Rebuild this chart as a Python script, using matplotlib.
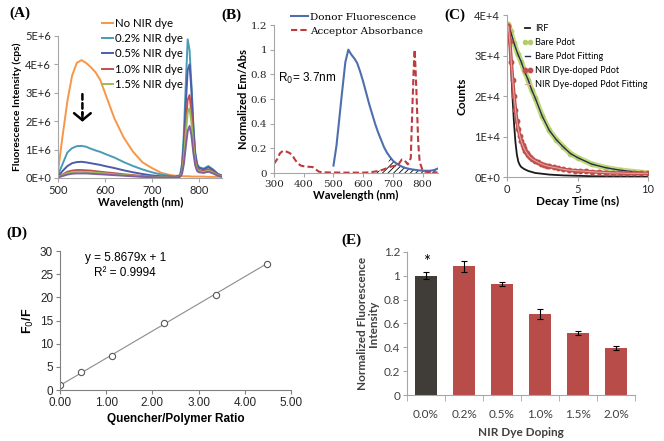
import matplotlib
matplotlib.use("Agg")
import matplotlib.pyplot as plt
import numpy as np

# ---------------- (A) emission spectra, intensity in units of 1E+6 cps
a_wavelength = [500, 510, 520, 530, 540, 550, 560, 570, 580, 590,
                600, 620, 640, 660, 680, 700, 720, 740, 750,
                760, 764, 768, 772, 776, 780, 784, 788, 792, 796, 800,
                810, 820, 830, 840, 850]
a_no_dye = [0.22, 1.5, 2.7, 3.6, 4.05, 4.15, 4.05, 3.9, 3.72, 3.45,
            3.0, 2.1, 1.42, 0.92, 0.55, 0.35, 0.18, 0.1, 0.08,
            0.07, 0.07, 0.06, 0.06, 0.06, 0.06, 0.05, 0.05, 0.05, 0.05, 0.05,
            0.05, 0.04, 0.04, 0.04, 0.04]
a_dye_02 = [0.1, 0.5, 0.9, 1.05, 1.12, 1.13, 1.1, 1.03, 0.97, 0.92,
            0.85, 0.72, 0.56, 0.42, 0.3, 0.2, 0.12, 0.07, 0.05,
            0.1, 0.5, 1.6, 3.3, 4.88, 4.5, 3.3, 1.9, 0.9, 0.5, 0.38,
            0.33, 0.42, 0.3, 0.15, 0.08]
a_dye_05 = [0.05, 0.25, 0.42, 0.52, 0.56, 0.57, 0.55, 0.52, 0.49, 0.46,
            0.42, 0.35, 0.27, 0.2, 0.14, 0.09, 0.06, 0.04, 0.04,
            0.08, 0.4, 1.2, 2.6, 3.8, 4.0, 3.1, 1.8, 0.85, 0.48, 0.36,
            0.3, 0.38, 0.28, 0.14, 0.07]
a_dye_10 = [0.03, 0.12, 0.22, 0.26, 0.28, 0.28, 0.27, 0.26, 0.24, 0.22,
            0.2, 0.17, 0.13, 0.1, 0.07, 0.05, 0.03, 0.02, 0.02,
            0.06, 0.25, 0.85, 1.9, 2.75, 2.92, 2.3, 1.35, 0.65, 0.36, 0.28,
            0.25, 0.3, 0.22, 0.11, 0.06]
a_dye_15 = [0.03, 0.1, 0.17, 0.2, 0.22, 0.22, 0.21, 0.2, 0.19, 0.17,
            0.16, 0.13, 0.1, 0.08, 0.05, 0.04, 0.03, 0.02, 0.02,
            0.05, 0.2, 0.7, 1.55, 2.3, 2.45, 1.95, 1.15, 0.55, 0.3, 0.24,
            0.21, 0.26, 0.19, 0.1, 0.05]
a_dye_20 = [0.02, 0.07, 0.12, 0.15, 0.16, 0.16, 0.16, 0.15, 0.14, 0.13,
            0.12, 0.1, 0.08, 0.06, 0.04, 0.03, 0.02, 0.02, 0.02,
            0.04, 0.15, 0.5, 1.1, 1.65, 1.83, 1.5, 0.9, 0.45, 0.25, 0.2,
            0.18, 0.22, 0.16, 0.08, 0.04]
a_labels = ['No NIR dye', '0.2% NIR dye', '0.5% NIR dye', '1.0% NIR dye',
            '1.5% NIR dye', '_nolegend_']
a_yticklabels = ['0E+0', '1E+6', '2E+6', '3E+6', '4E+6', '5E+6']

# ---------------- (B) normalized donor emission / acceptor absorbance
b_wavelength = [300, 310, 320, 330, 340, 350, 360, 370, 380, 390,
                400, 410, 420, 430, 440, 450, 460, 470, 480, 490,
                500, 510, 520, 530, 540, 550, 560, 570, 580, 590,
                600, 610, 620, 630, 640, 650, 660, 670, 680, 690,
                700, 710, 720, 730, 740, 750, 760,
                765, 770, 773, 776, 780, 785, 790,
                800, 810, 820, 830, 840, 850]
b_acceptor = [0.075, 0.11, 0.16, 0.18, 0.175, 0.165, 0.15, 0.11, 0.078, 0.06,
              0.055, 0.052, 0.05, 0.048, 0.03, 0.012, 0.006, 0.005, 0.005, 0.004,
              0.004, 0.004, 0.004, 0.003, 0.003, 0.003, 0.003, 0.003, 0.003, 0.003,
              0.003, 0.004, 0.005, 0.008, 0.012, 0.016, 0.022, 0.03, 0.04, 0.05,
              0.055, 0.06, 0.075, 0.11, 0.1, 0.07, 0.12,
              0.5, 0.85, 1.0, 0.85, 0.6, 0.25, 0.09,
              0.02, 0.01, 0.008, 0.006, 0.005, 0.005]
b_donor = [np.nan] * 20 + [
    0.06, 0.22, 0.45, 0.68, 0.9, 1.0, 0.96, 0.93, 0.89, 0.82,
    0.74, 0.65, 0.56, 0.48, 0.4, 0.33, 0.27, 0.21, 0.165, 0.13,
    0.1, 0.08, 0.065, 0.052, 0.043, 0.036, 0.031,
    0.029, 0.027, 0.026, 0.025, 0.024, 0.022, 0.021,
    0.019, 0.018, 0.018, 0.02, 0.025, 0.035]
b_yticklabels = ['0', '0.2', '0.4', '0.6', '0.8', '1', '1.2']

# ---------------- (C) decay curves, counts in units of 1E+4
c_irf_t = [0, 0.1, 0.2, 0.3, 0.4, 0.5, 0.6, 0.7, 0.8, 0.9, 1.0, 1.2, 1.5,
           2, 3, 4, 6, 8, 10]
c_irf = [3.6, 3.72, 3.2, 2.6, 1.9, 1.3, 0.85, 0.55, 0.38, 0.3, 0.25, 0.2,
         0.15, 0.1, 0.06, 0.04, 0.02, 0.015, 0.01]
c_bare_t = [0, 0.1, 0.25, 0.5, 0.75, 1.0, 1.25, 1.5, 1.75, 2.0, 2.5, 3.0,
            3.5, 4.0, 4.5, 5.0, 6.0, 7.0, 8.0, 9.0, 10.0]
c_bare = [3.7, 3.77, 3.6, 3.3, 3.05, 2.85, 2.6, 2.4, 2.15, 1.95, 1.5, 1.15,
          0.92, 0.74, 0.58, 0.48, 0.32, 0.23, 0.17, 0.13, 0.1]
c_nir_t = [0, 0.1, 0.2, 0.3, 0.4, 0.5, 0.6, 0.7, 0.8, 0.9, 1.0, 1.1, 1.2,
           1.3, 1.4, 1.5, 1.6, 1.8, 2.0, 2.2, 2.4, 2.6, 2.8, 3.0, 3.3, 3.6,
           4.0, 4.4, 4.8, 5.2, 5.6, 6.0, 6.5, 7.0, 7.5, 8.0, 8.5, 9.0, 9.5, 10.0]
c_nir = [3.5, 3.72, 3.35, 2.85, 2.4, 2.0, 1.65, 1.38, 1.18, 1.02, 0.9, 0.8,
         0.72, 0.65, 0.59, 0.54, 0.5, 0.44, 0.4, 0.36, 0.33, 0.3, 0.28, 0.26,
         0.24, 0.22, 0.19, 0.17, 0.16, 0.15, 0.14, 0.13, 0.12, 0.11, 0.1, 0.1,
         0.09, 0.09, 0.09, 0.09]
c_yticklabels = ['0E+0', '1E+4', '2E+4', '3E+4', '4E+4']

# ---------------- (D) Stern-Volmer plot
d_ratio = [0.0, 0.45, 1.12, 2.24, 3.37, 4.47]
d_f0_f = [1.05, 3.8, 7.4, 14.5, 20.6, 27.2]
d_err = [0.3, 0.3, 0.3, 0.4, 0.3, 0.5]
d_fit_x = [0.0, 4.47]
d_fit_y = [1.0, 27.23]

# ---------------- (E) normalized fluorescence vs dye doping
e_doping = ['0.0%', '0.2%', '0.5%', '1.0%', '1.5%', '2.0%']
e_intensity = [1.0, 1.08, 0.93, 0.68, 0.52, 0.395]
e_err = [0.03, 0.045, 0.018, 0.04, 0.015, 0.015]
e_yticklabels = ['0', '0.2', '0.4', '0.6', '0.8', '1', '1.2']

SANS = 'Lato'
plt.rcParams['font.family'] = SANS
plt.rcParams['hatch.linewidth'] = 0.6

fig = plt.figure(figsize=(6.64, 4.41), dpi=100)


def style_axes(ax, color='#A6A6A6', labelsize=8):
    for side in ('top', 'right'):
        ax.spines[side].set_visible(False)
    for side in ('left', 'bottom'):
        ax.spines[side].set_color(color)
        ax.spines[side].set_linewidth(0.8)
    ax.tick_params(direction='out', length=3, width=0.8, color=color,
                   labelsize=labelsize, pad=2, labelcolor='#262626')


# ---- panel A
ax_a = fig.add_axes([0.0873, 0.5964, 0.2477, 0.322])
a_series = [a_no_dye, a_dye_02, a_dye_05, a_dye_10, a_dye_15, a_dye_20]
a_colors = ['#F79646', '#4A9BB5', '#4A5DA8', '#C0504D', '#9BBB59', '#7F5F9F']
for vals, col, lab in zip(a_series, a_colors, a_labels):
    ax_a.plot(a_wavelength, vals, color=col, lw=1.4, label=lab)
ax_a.set_xlim(500, 850)
ax_a.set_ylim(0, 5)
ax_a.set_xticks([500, 600, 700, 800])
ax_a.set_yticks(range(6))
ax_a.set_yticklabels(a_yticklabels)
style_axes(ax_a)
ax_a.set_xlabel('Wavelength (nm)', fontweight='bold', fontsize=8, labelpad=1)
ax_a.set_ylabel('Fluorescence Intensity (cps)', fontweight='bold',
                fontsize=7.5, labelpad=2)
ax_a.legend(loc='upper left', bbox_to_anchor=(0.1536, 0.960),
            bbox_transform=fig.transFigure, frameon=False, fontsize=8.2,
            handlelength=1.0, handletextpad=0.1, labelspacing=0.38,
            borderpad=0, borderaxespad=0)
# dashed arrow showing the quenching
ax_a.annotate('', xy=(552, 2.15), xytext=(552, 3.05),
              arrowprops=dict(arrowstyle='-', lw=1.8, color='k',
                              linestyle=(0, (2.2, 1.4))))
ax_a.annotate('', xy=(552, 1.98), xytext=(552, 2.3),
              arrowprops=dict(arrowstyle='->, head_length=0.5, head_width=0.6',
                              lw=1.8, color='k', shrinkA=0, shrinkB=0))

# ---- panel B
ax_b = fig.add_axes([0.4127, 0.6077, 0.2462, 0.3356])
b_wl = np.array(b_wavelength)
b_don = np.array(b_donor)
b_acc = np.array(b_acceptor)
overlap = np.where(b_wl >= 690, b_don, b_acc)
ax_b.fill_between(b_wl, 0, overlap, where=b_wl >= 640, facecolor='none',
                  edgecolor='black', hatch='//////', linewidth=0)
ax_b.plot(b_wl, b_don, color='#4F6EAD', lw=1.5, label='Donor Fluorescence')
ax_b.plot(b_wl, b_acc, color='#BE3A3C', lw=1.5, ls=(0, (3, 1.5)),
          label='Acceptor Absorbance')
ax_b.set_xlim(300, 850)
ax_b.set_ylim(0, 1.2)
ax_b.set_xticks([300, 400, 500, 600, 700, 800])
ax_b.set_yticks([0, 0.2, 0.4, 0.6, 0.8, 1.0, 1.2])
ax_b.set_yticklabels(b_yticklabels)
style_axes(ax_b)
ax_b.tick_params(labelfontfamily='DejaVu Serif', labelsize=7.5)
ax_b.set_xlabel('Wavelength (nm)', fontweight='bold', fontsize=8, labelpad=1)
ax_b.set_ylabel('Normalized Em/Abs', fontweight='bold', fontsize=8, labelpad=1)
ax_b.text(313, 0.77, 'R$_0$= 3.7nm', fontsize=8.5, va='center',
          family='Liberation Sans')
ax_b.legend(loc='upper left', bbox_to_anchor=(0.439, 0.972),
            bbox_transform=fig.transFigure, frameon=False,
            prop={'family': 'DejaVu Serif', 'size': 7.5},
            handlelength=1.6, handletextpad=0.2, labelspacing=0.45,
            borderpad=0, borderaxespad=0)

# ---- panel C
ax_c = fig.add_axes([0.7636, 0.5986, 0.2123, 0.3673])
ax_c.plot(c_irf_t, c_irf, color='#1A1A1A', lw=1.3, label='IRF')
ax_c.plot(c_bare_t, c_bare, color='#C5D97A', lw=4, solid_capstyle='round')
ax_c.plot(c_bare_t, c_bare, ls='none', marker='o', ms=3, color='#B5CC6A',
          label='Bare Pdot')
ax_c.plot(c_bare_t, c_bare, color='#1F2F4F', lw=1.0, label='Bare Pdot Fitting')
ax_c.plot(c_nir_t, c_nir, color='#C0504D', lw=2.5)
ax_c.plot(c_nir_t, c_nir, ls='none', marker='o', ms=3.2, color='#C0504D',
          label='NIR Dye-doped Pdot')
ax_c.plot(c_nir_t, c_nir, color='#E3A3A2', lw=0.8,
          label='NIR Dye-doped Pdot Fitting')
ax_c.set_xlim(0, 10)
ax_c.set_ylim(0, 4)
ax_c.set_xticks([0, 5, 10])
ax_c.set_yticks(range(5))
ax_c.set_yticklabels(c_yticklabels)
style_axes(ax_c)
ax_c.set_xlabel('Decay Time (ns)', fontweight='bold', fontsize=8.5, labelpad=1)
ax_c.set_ylabel('Counts', fontweight='bold', fontsize=8.5, labelpad=5)
ax_c.legend(loc='upper left', bbox_to_anchor=(0.786, 0.946),
            bbox_transform=fig.transFigure, frameon=False, fontsize=6.6,
            numpoints=2, handlelength=1.2, handletextpad=0.2,
            labelspacing=0.55, borderpad=0, borderaxespad=0)

# ---- panel D
D_FONT = 'Liberation Sans'
ax_d = fig.add_axes([0.0904, 0.1156, 0.3479, 0.3152])
ax_d.plot(d_fit_x, d_fit_y, color='#8C8C8C', lw=0.8)
ax_d.errorbar(d_ratio, d_f0_f, yerr=d_err, fmt='o', ms=4.5, mfc='white',
              mec='#595959', mew=0.8, ecolor='black', elinewidth=0.8,
              capsize=1.5, capthick=0.8)
ax_d.plot(d_ratio, d_f0_f, ls='none', marker='o', ms=1.3, color='#333333')
ax_d.set_xlim(0, 5)
ax_d.set_ylim(0, 30)
ax_d.set_xticks([0, 1, 2, 3, 4, 5])
ax_d.set_xticklabels(['0.00', '1.00', '2.00', '3.00', '4.00', '5.00'])
ax_d.set_yticks(range(0, 31, 5))
style_axes(ax_d, color='#808080', labelsize=8.5)
ax_d.tick_params(labelfontfamily=D_FONT)
ax_d.set_xlabel('Quencher/Polymer Ratio', fontweight='bold', fontsize=8.5,
                family=D_FONT, labelpad=3)
ax_d.set_ylabel('F$_0$/F', fontweight='bold', fontsize=9, family=D_FONT,
                labelpad=3)
ax_d.text(1.41, 28.4, 'y = 5.8679x + 1', fontsize=8.5, family=D_FONT,
          ha='center', va='center')
ax_d.text(1.41, 25.2, 'R² = 0.9994', fontsize=8.5, family=D_FONT,
          ha='center', va='center')

# ---- panel E
ax_e = fig.add_axes([0.6130, 0.1043, 0.3434, 0.3243])
e_x = np.arange(len(e_doping))
e_colors = ['#403C38'] + ['#B84C49'] * (len(e_doping) - 1)
ax_e.bar(e_x, e_intensity, width=0.58, color=e_colors)
ax_e.errorbar(e_x, e_intensity, yerr=e_err, fmt='none', ecolor='black',
              elinewidth=0.8, capsize=2, capthick=0.8)
ax_e.text(0, 1.12, '*', fontsize=12, ha='center', va='center')
ax_e.set_xlim(-0.5, len(e_doping) - 0.5)
ax_e.set_ylim(0, 1.2)
ax_e.set_yticks([0, 0.2, 0.4, 0.6, 0.8, 1.0, 1.2])
ax_e.set_yticklabels(e_yticklabels)
ax_e.set_xticks(e_x)
ax_e.set_xticklabels(e_doping)
ax_e.set_xticks(np.arange(len(e_doping) + 1) - 0.5, minor=True)
style_axes(ax_e, labelsize=8.5)
ax_e.tick_params(labelcolor='#404040')
ax_e.tick_params(axis='x', which='major', length=0, pad=10)
ax_e.tick_params(axis='x', which='minor', length=4, color='#A6A6A6')
ax_e.set_xlabel('NIR Dye Doping', fontweight='bold', fontsize=8.5,
                color='#404040', labelpad=5)
ax_e.set_ylabel('Normalized Fluorescence\nIntensity', fontweight='bold',
                fontsize=8.5, color='#404040', labelpad=3, linespacing=1.1)

# ---- panel letters
for txt, x, y in [('(A)', 0.030, 0.9705), ('(B)', 0.349, 0.966),
                  ('(C)', 0.685, 0.966), ('(D)', 0.0256, 0.4717),
                  ('(E)', 0.530, 0.4558)]:
    fig.text(x, y, txt, family='Liberation Serif', fontweight='bold',
             fontsize=11, ha='center', va='center')

fig.savefig('out.png', dpi=100)
